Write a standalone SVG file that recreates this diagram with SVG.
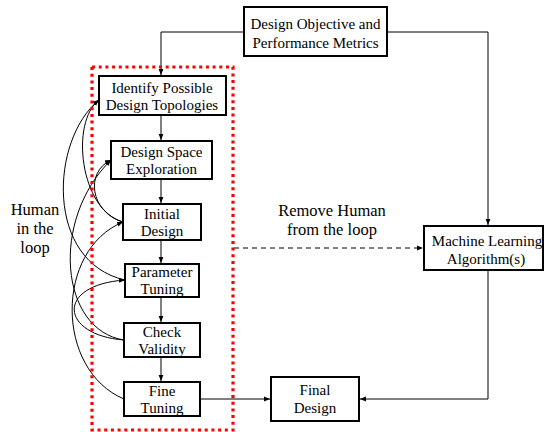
<svg xmlns="http://www.w3.org/2000/svg" width="549" height="432" viewBox="0 0 549 432">
<style>
.box{fill:#fff;stroke:#000;stroke-width:2}
.t{font-family:"Liberation Serif","Times New Roman",serif;font-size:15px;fill:#000;text-anchor:middle}
.big{font-size:16.5px}
.c{fill:none;stroke:#000;stroke-width:1}
</style>
<defs>
<marker id="ah" viewBox="0 0 10 10" refX="10" refY="5" markerWidth="6" markerHeight="6" orient="auto" markerUnits="userSpaceOnUse">
<path d="M0,1 L10,5 L0,9 Z" fill="#000"/>
</marker>
</defs>
<rect width="549" height="432" fill="#fff"/>
<g id="connectors">
<path class="c" d="M244,32 H161 V75" marker-end="url(#ah)"/>
<path class="c" d="M387,32 H488 V225" marker-end="url(#ah)"/>
<path class="c" d="M161,115 V140" marker-end="url(#ah)"/>
<path class="c" d="M161,179 V203" marker-end="url(#ah)"/>
<path class="c" d="M161,240 V263" marker-end="url(#ah)"/>
<path class="c" d="M161,297 V322" marker-end="url(#ah)"/>
<path class="c" d="M161,357 V381" marker-end="url(#ah)"/>
<path class="c" d="M234,248 H423" stroke-dasharray="5 4" marker-end="url(#ah)"/>
<path class="c" d="M488,270 V399 H360" marker-end="url(#ah)"/>
<path class="c" d="M200,399 H270" marker-end="url(#ah)"/>
<path class="c" d="M123,222 C80,210 70,122 99,100" marker-end="url(#ah)"/>
<path class="c" d="M125,280 C45,262 50,140 99,100" marker-end="url(#ah)"/>
<path class="c" d="M123,222 C90,212 85,172 111,160" marker-end="url(#ah)"/>
<path class="c" d="M124,340 C60,330 50,220 111,160" marker-end="url(#ah)"/>
<path class="c" d="M124,399 C55,370 55,250 123,222" marker-end="url(#ah)"/>
<path class="c" d="M124,340 C60,335 55,285 125,280" marker-end="url(#ah)"/>
</g>
<rect id="human-loop-region" x="92" y="67" width="141" height="363" fill="none" stroke="#ff0000" stroke-width="3.2" stroke-dasharray="3 3.7"/>
<g id="objective"><rect class="box" x="244" y="7" width="143" height="49"/><text class="t" x="315.5" y="29">Design Objective and</text><text class="t" x="315.5" y="48">Performance Metrics</text></g>
<g id="identify"><rect class="box" x="99" y="76" width="127" height="39"/><text class="t" x="162" y="93">Identify Possible</text><text class="t" x="162" y="110">Design Topologies</text></g>
<g id="dse"><rect class="box" x="111" y="141" width="101" height="38"/><text class="t" x="161.5" y="157">Design Space</text><text class="t" x="161.5" y="174">Exploration</text></g>
<g id="initial"><rect class="box" x="123" y="204" width="78" height="36"/><text class="t" x="162" y="219">Initial</text><text class="t" x="162" y="236">Design</text></g>
<g id="param"><rect class="box" x="125" y="264" width="74" height="33"/><text class="t" x="162" y="277">Parameter</text><text class="t" x="162" y="294">Tuning</text></g>
<g id="check"><rect class="box" x="124" y="323" width="76" height="34"/><text class="t" x="162" y="337">Check</text><text class="t" x="162" y="354">Validity</text></g>
<g id="fine"><rect class="box" x="124" y="382" width="76" height="34"/><text class="t" x="162" y="396">Fine</text><text class="t" x="162" y="413">Tuning</text></g>
<g id="final"><rect class="box" x="271" y="377" width="88" height="44"/><text class="t" x="315" y="395">Final</text><text class="t" x="315" y="413">Design</text></g>
<g id="ml"><rect class="box" x="424" y="226" width="119" height="44"/><text class="t" x="487" y="246">Machine Learning</text><text class="t" x="486" y="264">Algorithm(s)</text></g>
<g id="labels">
<text class="t big" x="332" y="216">Remove Human</text>
<text class="t big" x="332" y="235">from the loop</text>
<text class="t big" x="35" y="215">Human</text>
<text class="t big" x="35" y="234">in the</text>
<text class="t big" x="35" y="253">loop</text>
</g>
</svg>
